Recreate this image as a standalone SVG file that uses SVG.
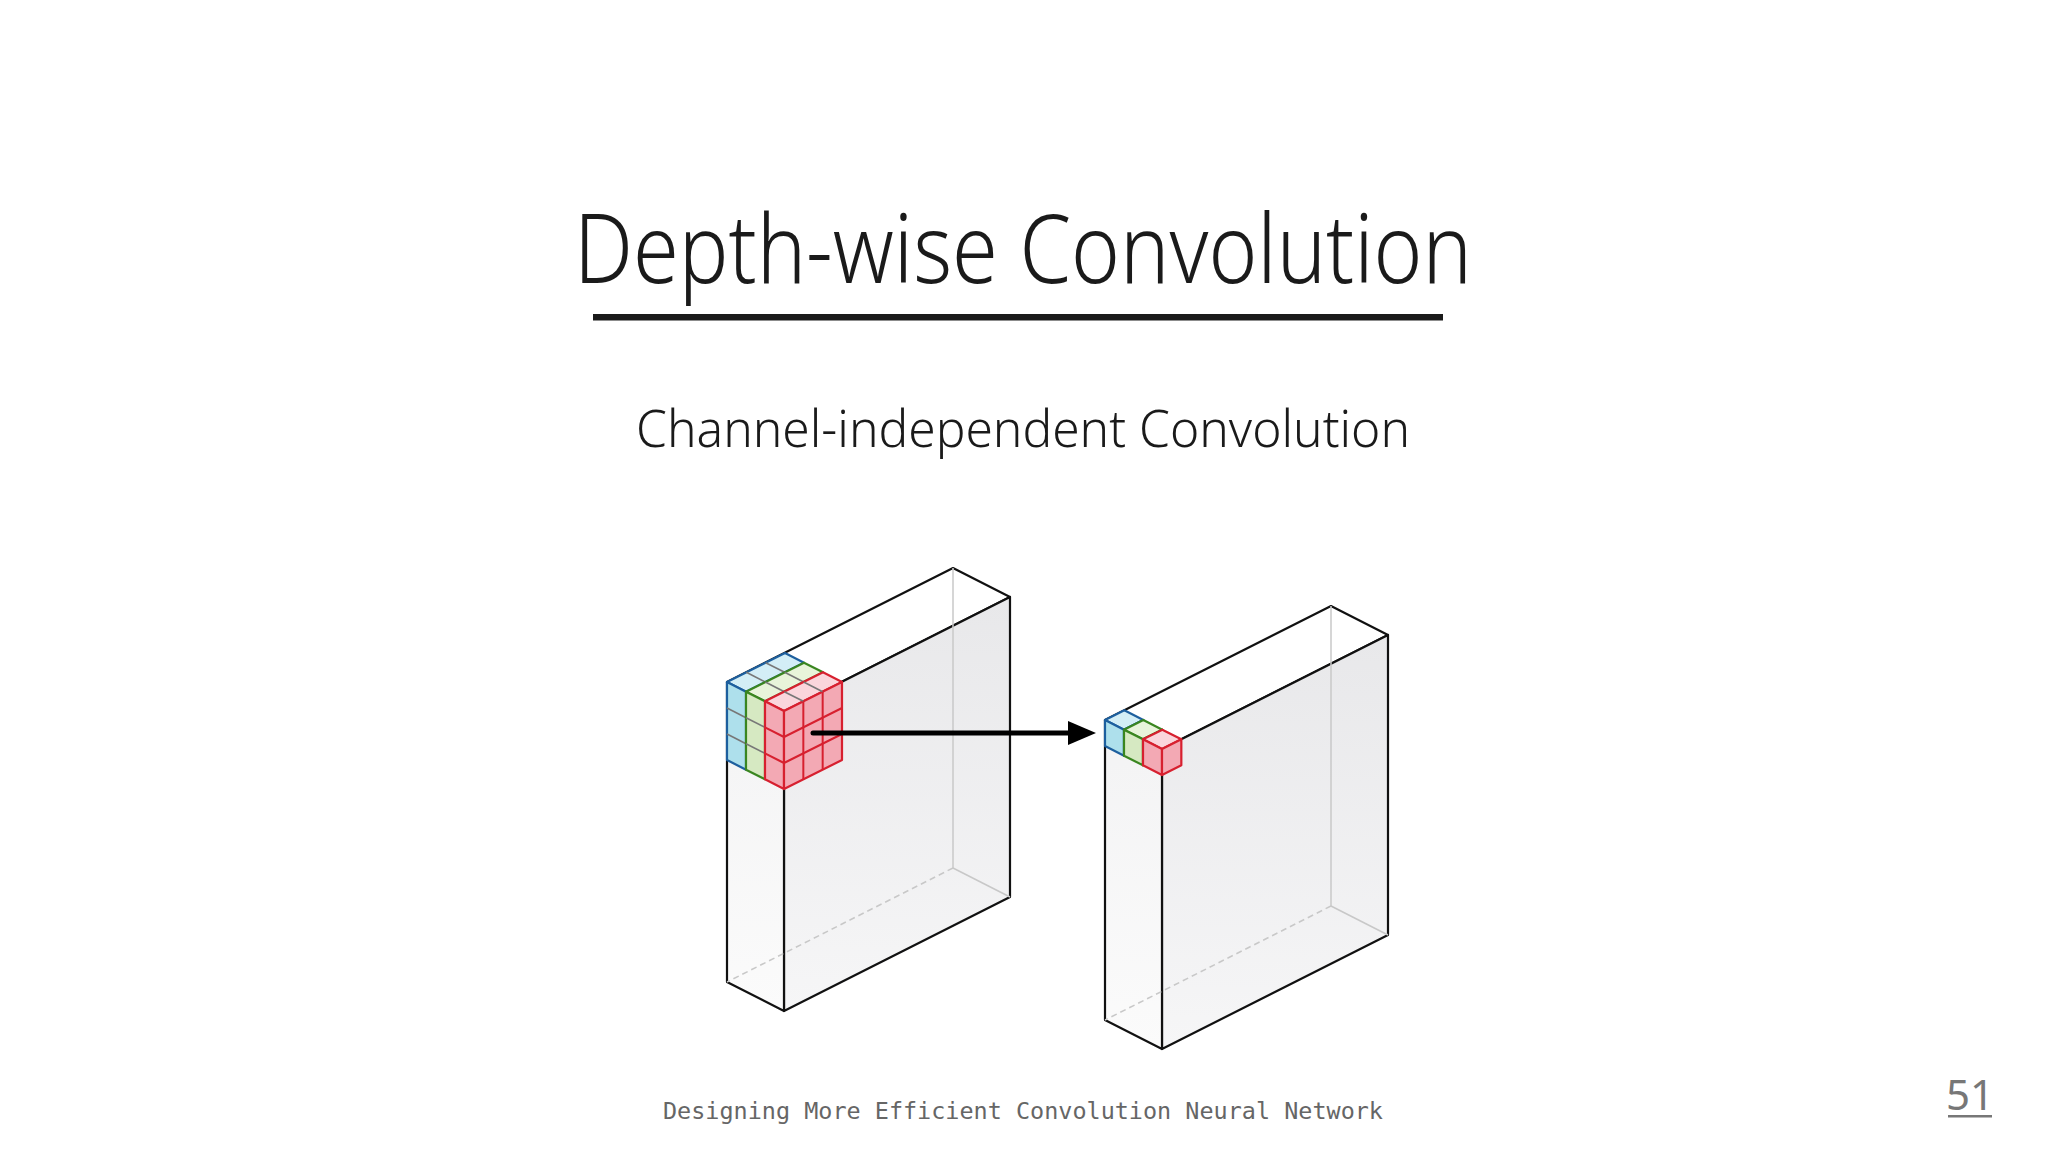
<svg xmlns="http://www.w3.org/2000/svg" width="2048" height="1152" viewBox="0 0 2048 1152">
<defs>
<linearGradient id="fg" x1="0" y1="0" x2="0" y2="1"><stop offset="0" stop-color="#e8e8ea"/><stop offset="1" stop-color="#f6f6f7"/></linearGradient>
<linearGradient id="lg" x1="0" y1="0" x2="0" y2="1"><stop offset="0" stop-color="#f3f3f4"/><stop offset="1" stop-color="#fbfbfb"/></linearGradient>
</defs>
<style>
.t{font-family:"Noto Sans","Open Sans",sans-serif;font-weight:300;fill:#1a1a1a}
.box{stroke:#111;stroke-width:2.2;stroke-linejoin:round}
.hid{stroke:#c8c8c8;stroke-width:1.5;fill:none}
.b{fill:#aee0ec;stroke:#1d5f9e;stroke-width:2.2;stroke-linejoin:round}
.bt{fill:#d3eef6;stroke:#1d5f9e;stroke-width:2.2;stroke-linejoin:round}
.g{fill:#d6e9c2;stroke:#3a8620;stroke-width:2.2;stroke-linejoin:round}
.gt{fill:#e8f4da;stroke:#3a8620;stroke-width:2.2;stroke-linejoin:round}
.r{fill:#f3a9b4;stroke:#d7202f;stroke-width:2.2;stroke-linejoin:round}
.rt{fill:#fad6dc;stroke:#d7202f;stroke-width:2.2;stroke-linejoin:round}
.gl{stroke:#777;stroke-width:1.6;fill:none}
.rl{stroke:#d7202f;stroke-width:2;fill:none}
</style>
<rect width="2048" height="1152" fill="#fff"/>
<g id="title">
<text class="t" x="1023" y="283" font-size="96" text-anchor="middle" textLength="898" lengthAdjust="spacingAndGlyphs">Depth-wise Convolution</text>
<rect x="593" y="314" width="850" height="6.5" fill="#1a1a1a"/>
</g>
<g id="subtitle"><text class="t" x="1023" y="447" font-size="52" text-anchor="middle" textLength="774" lengthAdjust="spacingAndGlyphs">Channel-independent Convolution</text></g>

<g id="input-volume">
<polygon points="727,682 784,711 1010,597 953,568" fill="#fff" class="box"/>
<polygon points="784,711 1010,597 1010,897 784,1011" fill="url(#fg)" class="box"/>
<polygon points="727,682 784,711 784,1011 727,982" fill="url(#lg)" class="box"/>
<line x1="953" y1="568" x2="953" y2="868" class="hid"/>
<line x1="953" y1="868" x2="1010" y2="897" class="hid"/>
<line x1="953" y1="868" x2="727" y2="982" class="hid" stroke-dasharray="6 4"/>
</g>
<g id="kernel">
<polygon points="727,682 746,691.67 804,662.67 785,653" class="bt"/>
<polygon points="727,682 746,691.67 746,769.67 727,760" class="b"/>
<line x1="746.33" y1="672.33" x2="765.33" y2="682" class="gl"/>
<line x1="765.67" y1="662.67" x2="784.67" y2="672.33" class="gl"/>
<line x1="727" y1="708" x2="746" y2="717.67" class="gl"/>
<line x1="727" y1="734" x2="746" y2="743.67" class="gl"/>
<polygon points="746,691.67 765,701.33 823,672.33 804,662.67" class="gt"/>
<polygon points="746,691.67 765,701.33 765,779.33 746,769.67" class="g"/>
<line x1="765.33" y1="682" x2="784.33" y2="691.67" class="gl"/>
<line x1="784.67" y1="672.33" x2="803.67" y2="682" class="gl"/>
<line x1="746" y1="717.67" x2="765" y2="727.33" class="gl"/>
<line x1="746" y1="743.67" x2="765" y2="753.33" class="gl"/>
<polygon points="765,701.33 784,711 842,682 823,672.33" class="rt"/>
<polygon points="765,701.33 784,711 784,789 765,779.33" class="r"/>
<polygon points="784,711 842,682 842,760 784,789" class="r"/>
<line x1="784.33" y1="691.67" x2="803.33" y2="701.33" class="gl"/>
<line x1="803.67" y1="682" x2="822.67" y2="691.67" class="gl"/>
<line x1="765" y1="727.33" x2="784" y2="737" class="rl"/>
<line x1="765" y1="753.33" x2="784" y2="763" class="rl"/>
<line x1="803.33" y1="701.33" x2="803.33" y2="779.33" class="rl"/>
<line x1="822.67" y1="691.67" x2="822.67" y2="769.67" class="rl"/>
<line x1="784" y1="737" x2="842" y2="708" class="rl"/>
<line x1="784" y1="763" x2="842" y2="734" class="rl"/>
</g>

<g id="output-volume">
<polygon points="1105,720 1162,749 1388,635 1331,606" fill="#fff" class="box"/>
<polygon points="1162,749 1388,635 1388,935 1162,1049" fill="url(#fg)" class="box"/>
<polygon points="1105,720 1162,749 1162,1049 1105,1020" fill="url(#lg)" class="box"/>
<line x1="1331" y1="606" x2="1331" y2="906" class="hid"/>
<line x1="1331" y1="906" x2="1388" y2="935" class="hid"/>
<line x1="1331" y1="906" x2="1105" y2="1020" class="hid" stroke-dasharray="6 4"/>
</g>
<g id="output-cells">
<polygon points="1105,720 1124,729.67 1143.33,720 1124.33,710.33" class="bt"/>
<polygon points="1105,720 1124,729.67 1124,755.67 1105,746" class="b"/>
<polygon points="1124,729.67 1143.33,720 1143.33,746 1124,755.67" class="b"/>
<polygon points="1124,729.67 1143,739.33 1162.33,729.67 1143.33,720" class="gt"/>
<polygon points="1124,729.67 1143,739.33 1143,765.33 1124,755.67" class="g"/>
<polygon points="1143,739.33 1162.33,729.67 1162.33,755.67 1143,765.33" class="g"/>
<polygon points="1143,739.33 1162,749 1181.33,739.33 1162.33,729.67" class="rt"/>
<polygon points="1143,739.33 1162,749 1162,775 1143,765.33" class="r"/>
<polygon points="1162,749 1181.33,739.33 1181.33,765.33 1162,775" class="r"/>
</g>

<g id="connectors">
<line x1="813" y1="733" x2="1072" y2="733" stroke="#000" stroke-width="5" stroke-linecap="round"/>
<polygon points="1096,733 1068,721 1068,745" fill="#000"/>
</g>

<g id="footer">
<text x="1023" y="1119" font-family="'DejaVu Sans Mono','Liberation Mono',monospace" font-size="23" fill="#666" text-anchor="middle" textLength="720" lengthAdjust="spacingAndGlyphs">Designing More Efficient Convolution Neural Network</text>
<text x="1970" y="1110" font-family="'Noto Sans',sans-serif" font-size="42" fill="#777" text-anchor="middle">51</text>
<rect x="1948" y="1115" width="44" height="2.5" fill="#777"/>
</g>
</svg>
